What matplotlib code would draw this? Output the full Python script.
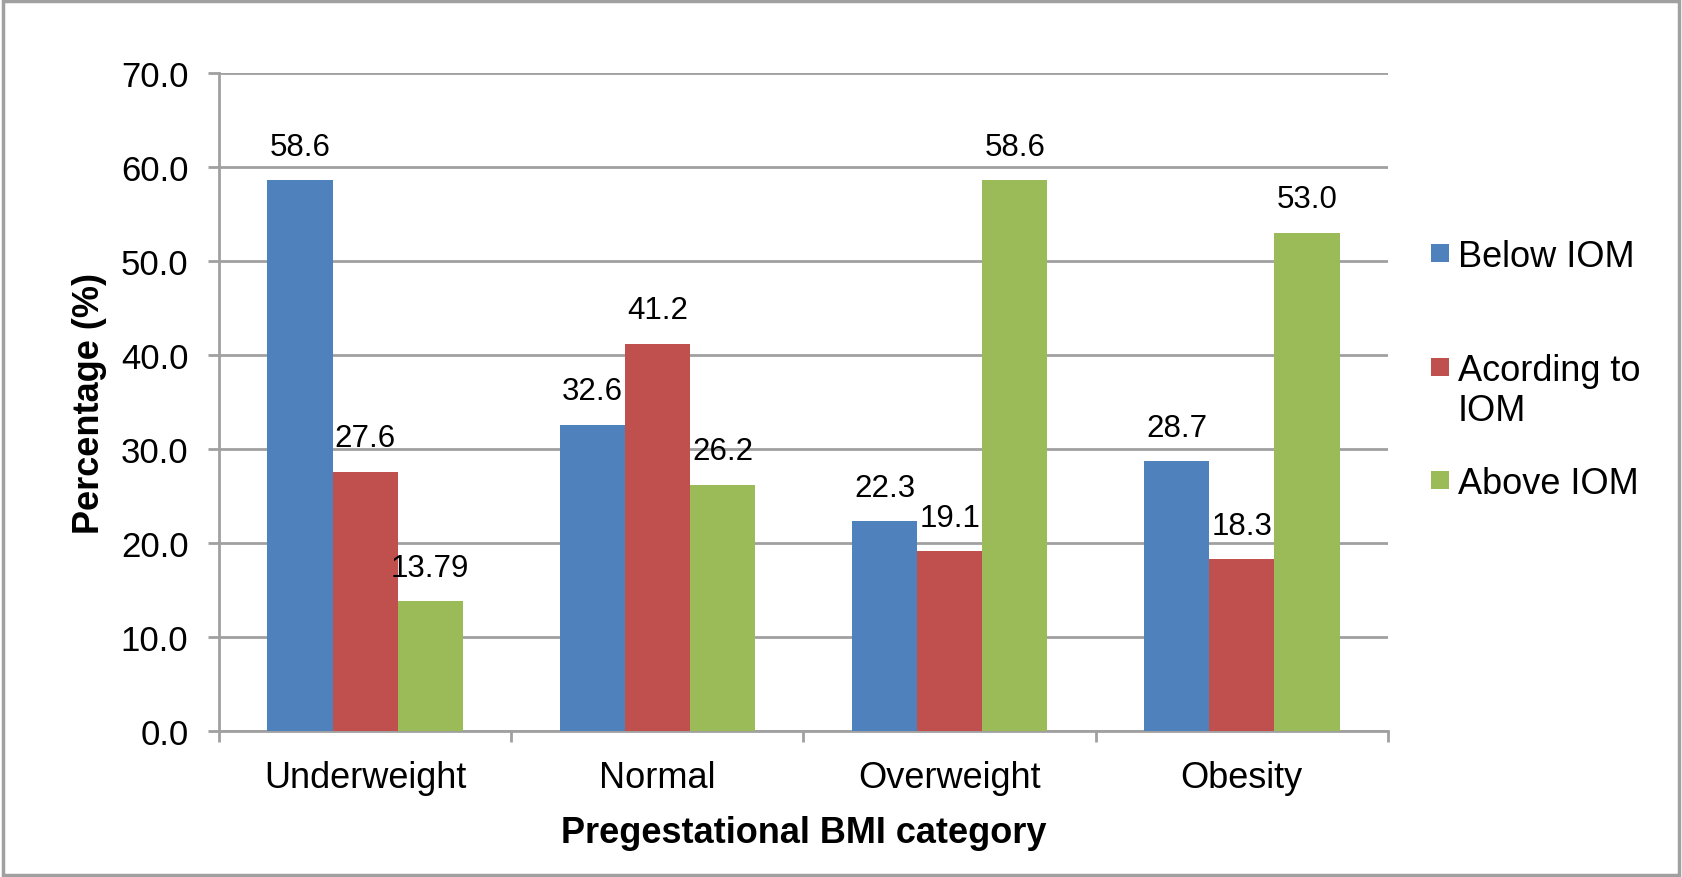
import numpy as np
import matplotlib
matplotlib.use('Agg')
import matplotlib.pyplot as plt
from matplotlib.patches import Rectangle

plt.rcParams['font.family'] = ['Liberation Sans', 'DejaVu Sans']

# data
categories = ['Underweight', 'Normal', 'Overweight', 'Obesity']
series_names = ['Below IOM', 'Acording to\nIOM', 'Above IOM']
below = [58.6, 32.6, 22.3, 28.7]
according = [27.6, 41.2, 19.1, 18.3]
above = [13.79, 26.2, 58.6, 53.0]
below_lbl = ['58.6', '32.6', '22.3', '28.7']
according_lbl = ['27.6', '41.2', '19.1', '18.3']
above_lbl = ['13.79', '26.2', '58.6', '53.0']
colors = ['#4F81BD', '#C0504D', '#9BBB59']
grid_col = '#A0A0A0'

W, H = 1682, 878
fig = plt.figure(figsize=(W / 100, H / 100), dpi=100)
ax = fig.add_axes([0.1302, 0.1663, 0.6950, 0.7494])

x = np.arange(len(categories))
w = 0.223
all_vals = [below, according, above]
all_lbls = [below_lbl, according_lbl, above_lbl]
for k in range(3):
    pos = x + (k - 1) * w
    ax.bar(pos, all_vals[k], width=w, color=colors[k], label=series_names[k],
           zorder=3, linewidth=0)
    for p, v, t in zip(pos, all_vals[k], all_lbls[k]):
        ax.annotate(t, (p, v), xytext=(0, 24), textcoords='offset points',
                    ha='center', va='center', fontsize=22.5, zorder=4)

ax.set_xlim(-0.5, 3.5)
ax.set_ylim(0, 70)
ax.set_yticks(np.arange(0, 71, 10))
ax.set_yticklabels(['%.1f' % v for v in np.arange(0, 71, 10)], fontsize=25)
ax.yaxis.grid(True, color=grid_col, linewidth=2, zorder=0)

ax.set_xticks(x)
ax.set_xticklabels(categories, fontsize=26)
ax.set_xticks(np.arange(-0.5, 4.0, 1), minor=True)
ax.tick_params(axis='x', which='major', length=0, pad=21)
ax.tick_params(axis='x', which='minor', length=8, width=2, color=grid_col, direction='out')
ax.tick_params(axis='y', length=8, width=2, color=grid_col, pad=14)

for s in ['top', 'right']:
    ax.spines[s].set_visible(False)
for s in ['left', 'bottom']:
    ax.spines[s].set_color(grid_col)
    ax.spines[s].set_linewidth(2)

ax.set_xlabel('Pregestational BMI category', fontsize=26, fontweight='bold', labelpad=14)
ax.set_ylabel('Percentage (%)', fontsize=26, fontweight='bold', labelpad=10)

# legend, laid out like the Excel one (marker level with first text line)
leg_marker_y = [254, 368, 481]
leg_lines_baseline = [[267], [381, 421], [494]]
for k in range(3):
    yc = leg_marker_y[k]
    fig.patches.append(Rectangle((1431 / W, 1 - (yc + 9) / H), 18 / W, 18 / H,
                                 transform=fig.transFigure, facecolor=colors[k],
                                 edgecolor='none'))
    for line, yb in zip(series_names[k].split('\n'), leg_lines_baseline[k]):
        fig.text(1458 / W, 1 - yb / H, line, fontsize=26, ha='left', va='baseline')

# outer frame
fig.patches.append(Rectangle((0.002, 0.002), 0.996, 0.996, transform=fig.transFigure,
                             fill=False, edgecolor=grid_col, linewidth=2.5))

fig.savefig('out.png', dpi=100)
